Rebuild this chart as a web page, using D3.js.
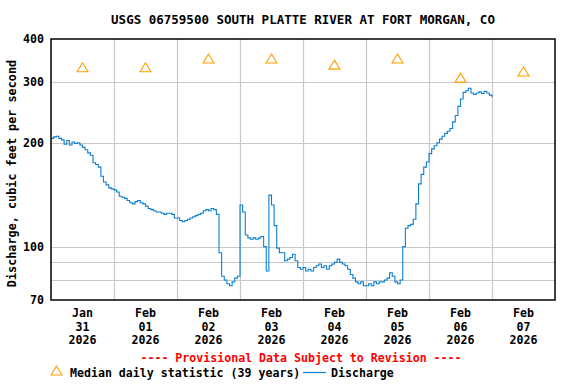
<!DOCTYPE html>
<html>
<head>
<meta charset="utf-8">
<script src="https://cdn.jsdelivr.net/npm/d3@7"></script>
<style>
  body { margin: 0; background: #fff; }
  svg { font-family: "DejaVu Sans Mono", monospace; font-weight: bold; }
</style>
</head>
<body>
<div id="chart"></div>
<script>
// tick labels and days
const days = ["2026-01-31", "2026-02-01", "2026-02-02", "2026-02-03", "2026-02-04", "2026-02-05", "2026-02-06", "2026-02-07"];
const dayLabels = [["Jan", "31", "2026"], ["Feb", "01", "2026"], ["Feb", "02", "2026"], ["Feb", "03", "2026"],
  ["Feb", "04", "2026"], ["Feb", "05", "2026"], ["Feb", "06", "2026"], ["Feb", "07", "2026"]];
const yTicks = [400, 300, 200, 100, 70];
const yGrid = [300, 200, 100, 90, 80];

// median daily statistic (39 years), one per day
const medians = [330, 330, 350, 350, 336, 350, 308, 321];

// discharge, cfs, hourly from 2026-01-31 00:00
const dischargeStart = "2026-01-31T00:00:00Z";
const discharge = [
  206, 208, 209, 206, 204, 198, 203, 197, 201, 199, 200, 197, 194, 191, 187, 184, 175, 173, 170, 160, 154, 151, 148, 147,
  146, 144, 140, 139, 138, 136, 134, 133, 135, 136, 134, 133, 131, 129, 128, 127, 126, 126, 125, 124, 125, 125, 124, 121,
  121, 119, 118, 119, 120, 121, 122, 123, 124, 125, 127, 128, 127, 129, 128, 124, 96, 82, 80, 78, 77, 79, 81, 82,
  132, 126, 108, 106, 105, 106, 105, 106, 107, 100, 85, 141, 132, 115, 99, 96, 96, 91, 92, 93, 95, 91, 87, 86,
  87, 85, 86, 85, 87, 88, 89, 87, 88, 86, 88, 89, 90, 92, 90, 89, 88, 86, 83, 81, 79, 78, 79, 77,
  77, 78, 77, 79, 78, 79, 79, 80, 81, 84, 82, 79, 78, 80, 100, 113, 115, 116, 120, 133, 152, 162, 170, 176,
  186, 192, 196, 200, 205, 209, 213, 216, 220, 230, 240, 255, 268, 280, 283, 288, 279, 276, 279, 281, 278, 282, 279, 275,
  271
];

const width = 576, height = 384;
const mLeft = 51, mRight = 555, mTop = 39, mBottom = 300;

const svg = d3.select("#chart").append("svg").attr("width", width).attr("height", height);

const t0 = new Date(dischargeStart);
const dayStart = d => new Date(d + "T00:00:00Z");
const x = d3.scaleUtc()
  .domain([dayStart(days[0]), d3.utcDay.offset(dayStart(days[days.length - 1]), 1)])
  .range([mLeft, mRight]);
const y = d3.scaleLog().domain([70, 400]).range([mBottom, mTop]);

// grid
svg.append("g").selectAll("line").data(days.slice(1)).enter().append("line")
  .attr("x1", d => Math.round(x(dayStart(d))) + 0.5)
  .attr("x2", d => Math.round(x(dayStart(d))) + 0.5)
  .attr("y1", mTop).attr("y2", mBottom)
  .attr("stroke", "#c8c8c8").attr("stroke-width", 1.2);
svg.append("g").selectAll("line").data(yGrid).enter().append("line")
  .attr("x1", mLeft).attr("x2", mRight)
  .attr("y1", d => Math.round(y(d)) + 0.5).attr("y2", d => Math.round(y(d)) + 0.5)
  .attr("stroke", "#c8c8c8").attr("stroke-width", 1.2);

// discharge line
const line = d3.line()
  .x((d, i) => x(d3.utcHour.offset(t0, i)))
  .y(d => y(d))
  .curve(d3.curveStepAfter);
svg.append("path").datum(discharge)
  .attr("d", line)
  .attr("fill", "none").attr("stroke", "#0a7fd0").attr("stroke-width", 1.1);

// median triangles
function tri(cx, cy) {
  return `M${cx},${cy - 5}L${cx + 5.5},${cy + 4}L${cx - 5.5},${cy + 4}Z`;
}
svg.append("g").selectAll("path").data(medians).enter().append("path")
  .attr("d", (d, i) => tri(x(d3.utcHour.offset(dayStart(days[i]), 12)), y(d)))
  .attr("fill", "none").attr("stroke", "#ffa000").attr("stroke-width", 1.1);

// frame
svg.append("rect").attr("x", mLeft).attr("y", mTop).attr("width", mRight - mLeft).attr("height", mBottom - mTop)
  .attr("fill", "none").attr("stroke", "#000").attr("stroke-width", 1.5);

// y tick labels
svg.append("g").selectAll("text").data(yTicks).enter().append("text")
  .attr("x", 44).attr("y", d => y(d) + 4)
  .attr("text-anchor", "end").attr("font-size", 11.6)
  .text(d => d);

// x tick labels
const xl = svg.append("g").selectAll("text").data(dayLabels).enter().append("text")
  .attr("text-anchor", "middle").attr("font-size", 11.6)
  .attr("transform", (d, i) => `translate(${x(d3.utcHour.offset(dayStart(days[i]), 12))},0)`);
xl.selectAll("tspan").data(d => d).enter().append("tspan")
  .attr("x", 0).attr("y", (d, j) => 317 + j * 13.5)
  .text(d => d);

// title
svg.append("text").attr("x", (mLeft + mRight) / 2).attr("y", 24)
  .attr("text-anchor", "middle").attr("font-size", 12.5)
  .text("USGS 06759500 SOUTH PLATTE RIVER AT FORT MORGAN, CO");

// y axis label
svg.append("text").attr("transform", `translate(16,${(mTop + mBottom) / 2 + 4}) rotate(-90)`)
  .attr("text-anchor", "middle").attr("font-size", 11.8)
  .text("Discharge, cubic feet per second");

// provisional note
svg.append("text").attr("x", 301).attr("y", 362)
  .attr("text-anchor", "middle").attr("font-size", 11.6).attr("fill", "#ff0000")
  .text("---- Provisional Data Subject to Revision ----");

// legend
svg.append("path").attr("d", tri(56.5, 371)).attr("fill", "none").attr("stroke", "#ffa000").attr("stroke-width", 1.1);
svg.append("text").attr("x", 70).attr("y", 377).attr("font-size", 11.6)
  .text("Median daily statistic (39 years)");
svg.append("line").attr("x1", 303).attr("x2", 326).attr("y1", 372.5).attr("y2", 372.5)
  .attr("stroke", "#0a7fd0").attr("stroke-width", 1.2);
svg.append("text").attr("x", 331).attr("y", 377).attr("font-size", 11.6)
  .text("Discharge");
</script>
</body>
</html>
